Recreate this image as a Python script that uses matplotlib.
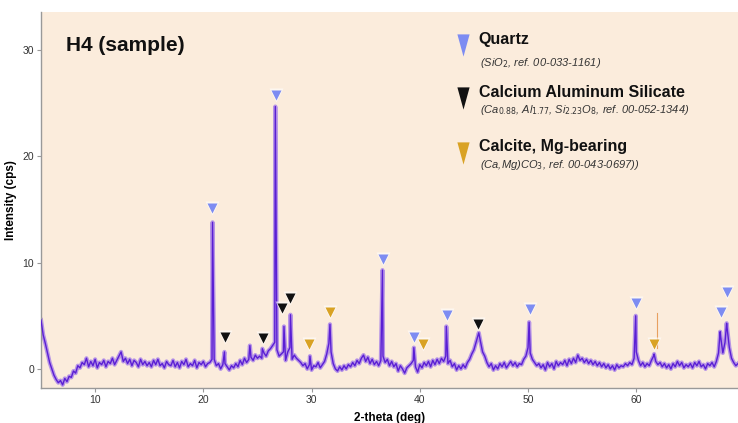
import numpy as np
import matplotlib
matplotlib.use('Agg')
import matplotlib.pyplot as plt
from matplotlib.path import Path

plt.rcParams['font.family'] = ['Liberation Sans', 'DejaVu Sans']

x_inicio = 5.0
paso = 0.2
fondo = [
    4.6, 3.2, 2.4, 1.5, 0.6, 0.0, -0.6, -1.0, -1.3, -1.1,
    -1.5, -0.9, -1.2, -0.7, -0.8, -0.2, -0.4, 0.3, 0.1, 0.6,
    0.4, 1.0, 0.2, 0.7, 0.3, 0.9, 0.1, 0.6, 0.4, 0.8,
    0.2, 0.7, 0.5, 1.0, 0.4, 0.8, 1.2, 1.6, 0.7, 1.0,
    0.5, 0.9, 0.3, 0.8, 0.6, 0.2, 0.9, 0.4, 0.7, 0.3,
    0.6, 0.2, 0.8, 0.4, 0.9, 0.3, 0.5, 0.1, 0.7, 0.4,
    0.3, 0.8, 0.2, 0.6, 0.1, 0.7, 0.4, 0.9, 0.2, 0.5,
    0.3, 0.8, 0.1, 0.6, 0.4, 0.7, 0.2, 0.5, 0.6, 0.9,
    0.9, 0.3, 0.5, 0.0, 0.4, 0.5, 0.2, -0.1, 0.3, 0.1,
    0.5, 0.2, 0.8, 0.4, 1.0, 0.6, 0.9, 1.1, 0.8, 1.3,
    1.0, 1.2, 1.0, 1.5, 1.2, 1.7, 1.9, 2.2, 2.5, 1.8,
    1.2, 1.4, 1.6, 0.8, 1.6, 2.0, 0.9, 1.3, 1.0, 0.8,
    0.6, 0.3, 0.5, 0.0, 0.4, -0.1, 0.3, 0.2, 0.6, 0.1,
    0.4, 0.7, 1.4, 2.4, 1.6, 0.5, 0.0, -0.2, 0.2, -0.1,
    0.3, 0.0, 0.4, 0.2, 0.6, 0.3, 0.8, 0.5, 1.0, 1.3,
    0.7, 1.1, 0.5, 0.9, 0.4, 0.7, 0.3, 0.8, 1.2, 0.6,
    0.9, 0.3, 0.7, 0.2, 0.5, -0.2, 0.3, 0.0, -0.4, 0.1,
    0.3, 0.5, 0.8, 0.2, -0.3, 0.4, 0.1, 0.6, 0.3, 0.7,
    0.2, 0.8, 0.4, 0.9, 0.5, 1.0, 0.7, 1.2, 0.5, 0.8,
    0.2, 0.5, -0.1, 0.3, 0.0, 0.4, 0.1, 0.6, 0.9, 1.4,
    1.8, 2.5, 3.2, 2.6, 1.6, 1.2, 0.6, 0.2, 0.5, -0.1,
    0.3, 0.0, 0.5, 0.2, 0.6, 0.1, 0.4, 0.7, 0.3, 0.6,
    0.2, 0.5, 0.4, 0.9, 1.2, 2.0, 1.5, 0.9, 0.6, 0.3,
    0.5, 0.1, 0.4, -0.1, 0.6, 0.2, 0.5, 0.0, 0.7, 0.3,
    0.6, 0.4, 0.8, 0.3, 0.9, 0.5, 1.0, 0.6, 1.3, 0.8,
    1.0, 0.6, 0.9, 0.5, 0.8, 0.4, 0.7, 0.3, 0.6, 0.2,
    0.5, 0.1, 0.4, 0.0, 0.3, -0.1, 0.4, 0.1, 0.3, 0.2,
    0.5, 0.3, 0.6, 0.4, 1.0, 1.6, 0.8, 0.3, 0.6, 0.2,
    0.5, 0.3, 0.8, 1.2, 0.7, 0.4, 0.6, 0.2, 0.5, 0.1,
    0.4, 0.0, 0.5, 0.2, 0.7, 0.3, 0.6, 0.1, 0.4, 0.2,
    0.5, 0.1, 0.6, 0.3, 0.7, 0.2, 0.4, 0.0, 0.5, 0.3,
    0.6, 0.2, 0.7, 1.5, 3.0, 1.5, 2.5, 3.8, 2.0, 1.0,
    0.6, 0.3, 0.5,
]

# máximos de los picos (2-theta, cps)
picos_x = [20.85, 21.95, 24.3, 25.45, 26.65, 27.45, 28.05, 29.85, 31.7,
           36.55, 39.45, 42.45, 45.45, 50.1, 59.95, 61.65, 67.75, 68.35]
picos_y = [13.8, 1.6, 2.2, 1.9, 24.7, 4.0, 5.1, 1.2, 4.2,
           9.3, 2.0, 4.0, 3.4, 4.4, 5.0, 1.4, 3.5, 4.3]

# marcadores de fases identificadas
cuarzo_x = [20.8, 26.7, 36.6, 39.5, 42.5, 50.2, 59.95, 67.8, 68.4]
cuarzo_y = [15.1, 25.8, 10.3, 3.0, 5.1, 5.6, 6.2, 5.4, 7.2]
silicato_x = [22.0, 25.5, 27.3, 28.05, 45.4]
silicato_y = [3.0, 2.9, 5.75, 6.7, 4.2]
calcita_x = [29.8, 31.7, 40.25, 61.6]
calcita_y = [2.3, 5.4, 2.3, 2.3]

fases = ['Quartz', 'Calcium Aluminum Silicate', 'Calcite, Mg-bearing']
formulas = [
    r'(SiO$_2$, ref. 00-033-1161)',
    r'(Ca$_{0.88}$, Al$_{1.77}$, Si$_{2.23}$O$_8$, ref. 00-052-1344)',
    r'(Ca,Mg)CO$_3$, ref. 00-043-0697))',
]
colores = ['#7D8CF2', '#111111', '#D9A224']

# ── Construcción de la curva ────────────────────────────────────────────────
x_fondo = x_inicio + paso * np.arange(len(fondo))
x_curva = np.concatenate([x_fondo, picos_x])
y_curva = np.concatenate([fondo, picos_y])
orden = np.argsort(x_curva)
x_curva = x_curva[orden]
y_curva = y_curva[orden]

fig = plt.figure(figsize=(7.38, 4.23), dpi=100)
ax = fig.add_axes([41 / 738, 1 - 388 / 423, 697 / 738, 376 / 423])
ax.set_facecolor('#FBECDC')
fig.patch.set_facecolor('white')

ax.plot(x_curva, y_curva, color='#9A6FEA', lw=3.0, alpha=0.7, zorder=2,
        solid_joinstyle='round')
ax.plot(x_curva, y_curva, color='#5A1FD4', lw=1.0, zorder=3,
        solid_joinstyle='round')

# línea fina naranja junto al marcador de calcita en ~62
ax.plot([61.9, 61.9], [2.0, 5.3], color='#E8A060', lw=0.8, zorder=3)

for xs, ys, c in [(cuarzo_x, cuarzo_y, colores[0]),
                  (silicato_x, silicato_y, colores[1]),
                  (calcita_x, calcita_y, colores[2])]:
    ax.plot(xs, ys, 'v', color='white', ms=10, alpha=0.6, mec='none', zorder=4)
    ax.plot(xs, ys, 'v', color=c, ms=6.5, mec='none', zorder=5)

ax.set_xlim(5, 69.4)
ax.set_ylim(-1.8, 33.6)
ax.set_xticks([10, 20, 30, 40, 50, 60])
ax.set_yticks([0, 10, 20, 30])
for lado in ['top', 'right']:
    ax.spines[lado].set_visible(False)
for lado in ['left', 'bottom']:
    ax.spines[lado].set_color('#999999')
    ax.spines[lado].set_linewidth(1.0)
ax.tick_params(colors='#999999', labelcolor='#333333', labelsize=7.5,
               length=3, width=0.8, pad=2)

ax.set_xlabel('2-theta (deg)', fontsize=8.5, fontweight='bold', labelpad=5)
ax.set_ylabel('Intensity (cps)', fontsize=8.5, fontweight='bold', labelpad=4)

ax.text(0.036, 0.912, 'H4 (sample)', transform=ax.transAxes,
        fontsize=15, fontweight='bold', va='center', ha='left', color='#111111')

# ── Leyenda manual ──────────────────────────────────────────────────────────
triangulo = Path([(-0.55, 1.0), (0.55, 1.0), (0.0, -1.0), (-0.55, 1.0)],
                 [Path.MOVETO, Path.LINETO, Path.LINETO, Path.CLOSEPOLY])
ley_y_marca = [0.912, 0.771, 0.625]
ley_y_nombre = [0.926, 0.787, 0.643]
ley_y_formula = [0.864, 0.739, 0.594]
for i in range(3):
    ax.plot([0.605], [ley_y_marca[i]], marker=triangulo, color=colores[i],
            ms=16, mec='none', transform=ax.transAxes, clip_on=False)
    ax.text(0.628, ley_y_nombre[i], fases[i], transform=ax.transAxes,
            fontsize=11.5, fontweight='bold', va='center', color='#111111')
    ax.text(0.630, ley_y_formula[i], formulas[i], transform=ax.transAxes,
            fontsize=8, style='italic', va='center', color='#333333')

plt.savefig('out.png', dpi=100)
